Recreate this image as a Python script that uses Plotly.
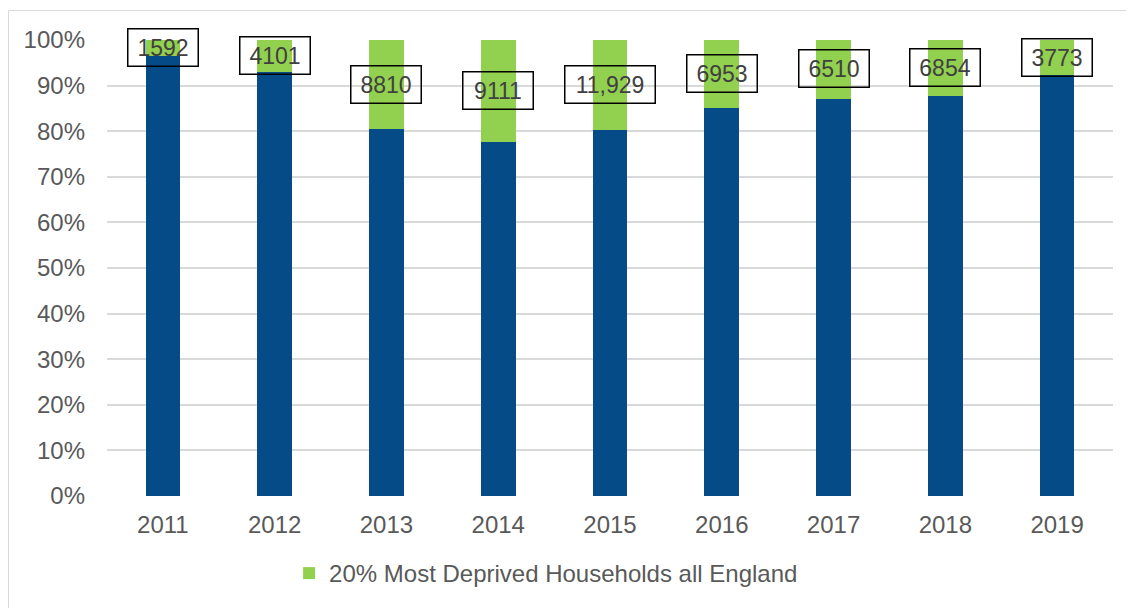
import plotly.graph_objects as go

years = [2011, 2012, 2013, 2014, 2015, 2016, 2017, 2018, 2019]
# share of households (percent)
other_pct = [96.5, 92.9, 80.4, 77.7, 80.3, 85.0, 87.1, 87.7, 92.3]
deprived_pct = [3.5, 7.1, 19.6, 22.3, 19.7, 15.0, 12.9, 12.3, 7.7]
deprived_labels = ["1592", "4101", "8810", "9111", "11,929", "6953", "6510", "6854", "3773"]
# vertical placement (percent) of each label box, as placed in the original
label_pos = [98.3, 96.6, 90.2, 88.9, 90.2, 92.6, 93.7, 93.9, 96.2]

BLUE = "#054B88"
GREEN = "#92D050"
TXT = "#595959"
FONT = "Liberation Sans, Arial, sans-serif"

fig = go.Figure()
fig.add_trace(go.Bar(x=years, y=other_pct, name="Other households", width=0.31,
                     marker=dict(color=BLUE, line=dict(width=0)), showlegend=False,
                     hoverinfo="skip"))
fig.add_trace(go.Bar(x=years, y=deprived_pct, name="20% Most Deprived Households all England",
                     width=0.31,
                     marker=dict(color=GREEN, line=dict(width=0)), hoverinfo="skip"))

for yr, lab, yp in zip(years, deprived_labels, label_pos):
    fig.add_annotation(x=yr, y=yp, xref="x", yref="y", text=lab, showarrow=False,
                       font=dict(family=FONT, size=23, color="#404040"),
                       bordercolor="#000000", borderwidth=1.5, borderpad=2,
                       width=10 * len(lab) + 25, height=32, align="center")

# outer chart-area border (right and bottom edges run off the picture)
fig.add_shape(type="rect", xref="paper", yref="paper",
              x0=-0.0979, x1=1.05, y0=-0.35, y1=1.0646,
              line=dict(color="#d9d9d9", width=1), fillcolor="rgba(0,0,0,0)", layer="below")

fig.update_layout(
    barmode="stack",
    width=1126, height=600,
    margin=dict(l=99, r=21, t=32, b=103),
    paper_bgcolor="white", plot_bgcolor="white",
    font=dict(family=FONT, size=24, color=TXT),
    showlegend=True,
    legend=dict(orientation="h", x=0.181, xanchor="left", y=-0.17, yanchor="middle",
                font=dict(family=FONT, size=24, color=TXT), itemwidth=30,
                bgcolor="rgba(0,0,0,0)"),
    xaxis=dict(type="linear", range=[2010.5, 2019.5], tickvals=years,
               ticktext=[str(y) for y in years], showgrid=False, showline=False,
               zeroline=False, ticks="", tickfont=dict(size=24, color=TXT),
               ticklabelstandoff=12),
    yaxis=dict(range=[0, 100], tickvals=[0, 10, 20, 30, 40, 50, 60, 70, 80, 90, 100],
               ticktext=[f"{v}%" for v in range(0, 101, 10)],
               showgrid=True, gridcolor="#d9d9d9", gridwidth=1.5, zeroline=False,
               showline=False, ticks="", tickfont=dict(size=24, color=TXT),
               ticklabelstandoff=21),
)

fig.write_html("out.html")
